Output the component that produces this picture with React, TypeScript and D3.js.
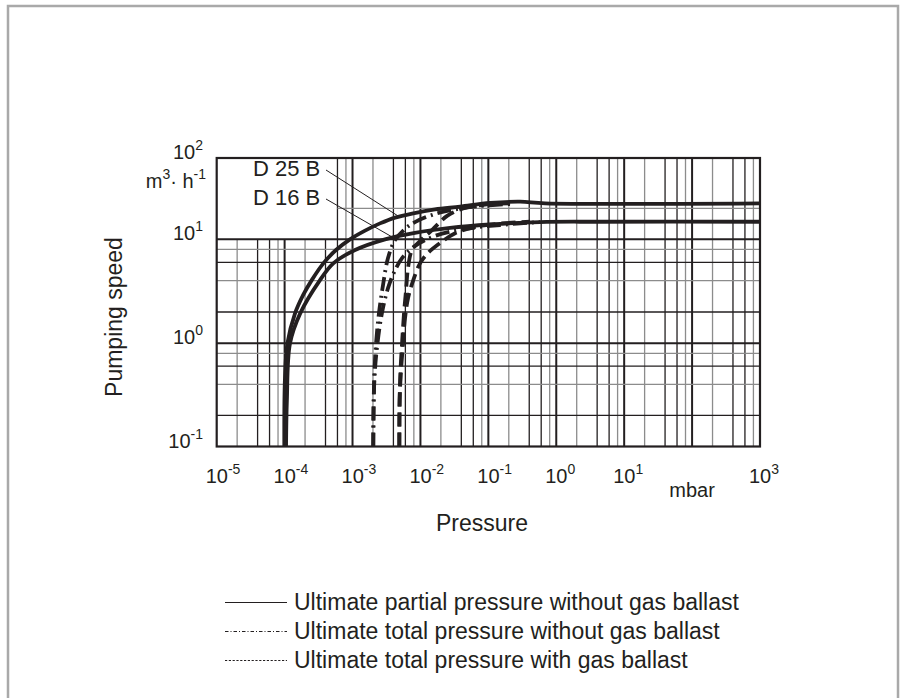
import React from 'react';
import * as d3 from 'd3';

// ---------- data ----------
type Pt = [number, number]; // [pressure in mbar, pumping speed in m3/h]

// Ultimate partial pressure without gas ballast (solid)
const solidD25: Pt[] = [
  [9.9e-5, 0.1], [1.01e-4, 0.44], [1.1e-4, 1.0], [1.42e-4, 1.93], [1.87e-4, 2.9], [2.51e-4, 4.05],
  [3.72e-4, 5.87], [5.71e-4, 7.89], [9.18e-4, 10], [1.53e-3, 12.8], [2.54e-3, 15.7], [4.23e-3, 18.5],
  [7.85e-3, 20.9], [0.0164, 23.3], [0.0383, 25.2], [0.106, 28.0], [0.293, 29.0], [0.684, 27.7], [1000, 27.7],
];
const solidD16: Pt[] = [
  [1.05e-4, 0.1], [1.08e-4, 0.28], [1.2e-4, 1.0], [1.69e-4, 1.93], [3.32e-4, 4.05], [5.21e-4, 5.87],
  [1.09e-3, 7.89], [3.01e-3, 10], [8.3e-3, 12.0], [0.0273, 13.8], [0.106, 15.2], [0.575, 16.3],
  [4.4, 16.45], [1000, 16.45],
];
// Ultimate total pressure without gas ballast (dash-dot)
const dashDotD25: Pt[] = [
  [2.02e-3, 0.1], [2.05e-3, 0.28], [2.11e-3, 0.55], [2.22e-3, 1.0], [2.45e-3, 1.95], [2.81e-3, 3.62],
  [3.33e-3, 6.6], [4.23e-3, 9.84], [5.93e-3, 13.4], [8.31e-3, 16.3], [0.0164, 20.5], [0.0324, 23.3],
  [0.0755, 25.7], [0.209, 27.2],
];
const dashDotD16: Pt[] = [
  [2.02e-3, 0.1], [2.05e-3, 0.28], [2.14e-3, 0.55], [2.33e-3, 1.0], [2.71e-3, 1.95], [3.33e-3, 3.39],
  [4.23e-3, 5.05], [5.36e-3, 6.6], [8.31e-3, 8.62], [0.0164, 11.0], [0.0454, 13.4], [0.149, 15.0],
  [0.577, 16.3],
];
// Ultimate total pressure with gas ballast (dashed)
const dashedD25: Pt[] = [
  [4.89e-3, 0.1], [4.94e-3, 0.28], [5.09e-3, 0.55], [5.36e-3, 1.0], [5.73e-3, 1.95], [6.14e-3, 3.24],
  [6.56e-3, 5.28], [7.51e-3, 7.89], [9.86e-3, 9.63], [0.0148, 13.0], [0.0247, 19.4], [0.0424, 23.9],
  [0.0893, 26.8], [0.209, 27.7],
];
const dashedD16: Pt[] = [
  [4.89e-3, 0.1], [4.94e-3, 0.28], [5.18e-3, 0.55], [5.55e-3, 1.0], [5.93e-3, 1.74], [6.56e-3, 2.71],
  [7.85e-3, 4.05], [9.86e-3, 5.87], [0.0129, 7.38], [0.0195, 9.21], [0.0324, 11.85], [0.0637, 14.2],
  [0.149, 15.6], [0.411, 16.45],
];

const xTickValues = [1e-5, 1e-4, 1e-3, 1e-2, 1e-1, 1e0, 1e1, 1e2, 1e3];
const xTickExponents = ['-5', '-4', '-3', '-2', '-1', '0', '1', '', '3'];
const xUnit = 'mbar';
const xUnitAt = 1e2;
const yTickValues = [0.1, 1, 10, 100];
const yTickExponents = ['-1', '0', '1', '2'];
const minorMultipliers = [2, 4, 6, 8];
const xMinorGray = [2, 8];
const yMinorGray = [4, 8];
const upperExtraGrid = [24];
const boxRightValue = 6e-4; // blank label box lies left of this, above 10 m3/h

const legendItems = [
  { label: 'Ultimate partial pressure without gas ballast', dash: '' },
  { label: 'Ultimate total pressure without gas ballast', dash: '3.5 2 1 2' },
  { label: 'Ultimate total pressure with gas ballast', dash: '2.2 1.6' },
];

// ---------- layout ----------
const W = 901, H = 698;
const PL = 216.7, PR = 760;
const yRange = [446.5, 343.3, 239.3, 158];
const FONT = '"Liberation Sans", Arial, Helvetica, sans-serif';
const INK = '#231f20';
const GRAY = '#8c8c8c';

export default function App() {
  const x = d3.scaleLog().domain([1e-5, 1e3]).range([PL, PR]);
  const y = d3.scaleLog().domain(yTickValues).range(yRange);
  const yB = y(0.1), yT = y(100);
  const lineTop = (v: number) => (v < boxRightValue * 0.99 ? y(10) : yT);

  const line = d3.line<Pt>().x(d => x(d[0])).y(d => y(d[1])).curve(d3.curveCatmullRom.alpha(0.5));

  const vLines: any[] = [];
  for (let k = -5; k <= 2; k++) {
    minorMultipliers.forEach(m => {
      const v = m * Math.pow(10, k);
      vLines.push(
        <line key={`v${k}_${m}`} x1={x(v)} x2={x(v)} y1={yB} y2={lineTop(v)}
          stroke={xMinorGray.includes(m) ? GRAY : INK} strokeWidth={1.3} />
      );
    });
    if (k > -5) {
      const v = Math.pow(10, k);
      vLines.push(<line key={`vd${k}`} x1={x(v)} x2={x(v)} y1={yB} y2={lineTop(v)} stroke={INK} strokeWidth={2} />);
    }
  }
  const hLines: any[] = [];
  [-1, 0].forEach(k => {
    minorMultipliers.forEach(m => {
      const v = m * Math.pow(10, k);
      hLines.push(<line key={`h${k}_${m}`} x1={PL} x2={PR} y1={y(v)} y2={y(v)}
        stroke={yMinorGray.includes(m) ? GRAY : INK} strokeWidth={1.3} />);
    });
  });
  [1, 10].forEach(v => hLines.push(<line key={`hd${v}`} x1={PL} x2={PR} y1={y(v)} y2={y(v)} stroke={INK} strokeWidth={2} />));
  upperExtraGrid.forEach(v => hLines.push(<line key={`hu${v}`} x1={x(boxRightValue)} x2={PR} y1={y(v)} y2={y(v)} stroke={GRAY} strokeWidth={1.3} />));

  const curveW = 3.8;

  return (
    <svg width={W} height={H} style={{ position: 'absolute', left: 0, top: 0, background: '#fff' }}
      fontFamily={FONT}>
      <rect x={8} y={6} width={890} height={720} fill="none" stroke="#a9a9a9" strokeWidth={2.5} />
      {vLines}
      {hLines}
      <rect x={PL} y={yT} width={PR - PL} height={yB - yT} fill="none" stroke={INK} strokeWidth={2.2} />

      <g fill="none" stroke={INK} strokeLinecap="butt">
        <path d={line(solidD25) || ''} strokeWidth={curveW} />
        <path d={line(solidD16) || ''} strokeWidth={curveW} />
        <path d={line(dashDotD25) || ''} strokeWidth={curveW} strokeDasharray="14 5 2 5" />
        <path d={line(dashDotD16) || ''} strokeWidth={curveW} strokeDasharray="14 5 2 5" />
        <path d={line(dashedD25) || ''} strokeWidth={curveW} strokeDasharray="14 6" />
        <path d={line(dashedD16) || ''} strokeWidth={curveW} strokeDasharray="14 6" />
      </g>

      <g fill={INK} fontSize={22}>
        <text x={253} y={176}>D 25 B</text>
        <text x={253} y={205}>D 16 B</text>
      </g>
      <line x1={326} y1={170} x2={x(4.9e-3)} y2={y(18.9)} stroke={INK} strokeWidth={1} />
      <line x1={326} y1={199} x2={x(4.3e-3)} y2={y(10.1)} stroke={INK} strokeWidth={1} />

      <g fill={INK} fontSize={20}>
        {yTickValues.map((v, i) => (
          <text key={i} x={203} y={y(v) + 1} textAnchor="end">
            10<tspan fontSize={14} dy={-9}>{yTickExponents[i]}</tspan>
          </text>
        ))}
        <text x={206} y={188} textAnchor="end">
          m<tspan fontSize={14} dy={-9}>3</tspan><tspan dy={9}>· h</tspan><tspan fontSize={14} dy={-9}>-1</tspan>
        </text>
      </g>
      <g fill={INK} fontSize={20}>
        {xTickValues.map((v, i) => xTickExponents[i] ? (
          <text key={i} x={x(v) - 11} y={483}>
            10<tspan fontSize={14} dy={-9}>{xTickExponents[i]}</tspan>
          </text>
        ) : null)}
        <text x={x(xUnitAt)} y={497} textAnchor="middle">{xUnit}</text>
      </g>

      <text x={482} y={531} textAnchor="middle" fontSize={23} fill={INK}>Pressure</text>
      <text transform={`translate(122,317) rotate(-90)`} textAnchor="middle" fontSize={23} fill={INK}>Pumping speed</text>

      <g fill={INK} fontSize={23}>
        {legendItems.map((it, i) => (
          <g key={i} transform={`translate(225,${610 + i * 29})`}>
            <line x1={0} x2={62} y1={-7.5} y2={-7.5} stroke={INK} strokeWidth={1.1} strokeDasharray={it.dash || undefined} />
            <text x={69} y={0}>{it.label}</text>
          </g>
        ))}
      </g>
    </svg>
  );
}
